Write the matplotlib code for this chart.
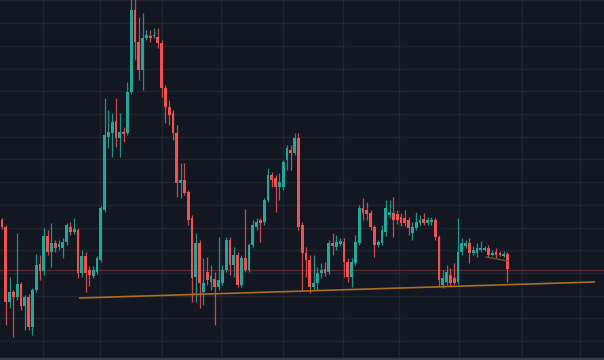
import numpy as np
import matplotlib
matplotlib.use("Agg")
import matplotlib.pyplot as plt

# OHLC, one candle per entry
opens = [140, 133, 58, 68, 63, 76, 54, 63, 33, 70, 96, 89, 124, 108, 117, 113, 112, 118, 133, 128,
         130, 87, 104, 90, 84, 88, 100, 150, 223, 227, 239, 222, 228, 227, 268, 350, 318, 290, 322, 324,
         324, 323, 317, 272, 253, 247, 227, 177, 180, 168, 142, 83, 117, 68, 88, 78, 81, 73, 77, 90,
         120, 95, 105, 75, 102, 90, 115, 133, 140, 138, 160, 185, 182, 173, 173, 200, 210, 207, 222, 135,
         107, 100, 73, 77, 87, 91, 88, 117, 113, 116, 118, 98, 83, 97, 117, 152, 150, 147, 133, 115,
         117, 128, 145, 147, 146, 143, 142, 140, 127, 132, 137, 141, 137, 138, 140, 123, 75, 78, 85, 82,
         78, 108, 114, 117, 107, 107, 110, 110, 112, 105, 108, 107, 104, 106]
highs = [142, 135, 83, 70, 127, 78, 65, 66, 72, 106, 105, 132, 130, 137, 120, 120, 122, 137, 138, 142,
         132, 110, 108, 94, 94, 104, 154, 262, 250, 247, 262, 247, 233, 278, 362, 362, 343, 347, 330, 330,
         332, 332, 320, 275, 260, 250, 235, 197, 197, 170, 145, 127, 120, 102, 103, 95, 88, 123, 95, 123,
         123, 113, 108, 105, 151, 117, 140, 142, 142, 162, 192, 188, 185, 187, 200, 215, 215, 227, 227, 138,
         113, 105, 105, 93, 97, 98, 120, 127, 125, 122, 122, 102, 102, 125, 155, 162, 158, 150, 135, 120,
         135, 160, 160, 163, 150, 147, 150, 143, 138, 148, 145, 147, 143, 143, 142, 125, 90, 95, 92, 97,
         142, 122, 120, 122, 114, 117, 119, 114, 115, 110, 112, 109, 109, 108]
lows = [131, 35, 52, 23, 60, 50, 30, 30, 25, 68, 80, 85, 105, 93, 108, 110, 102, 115, 125, 126,
        82, 83, 68, 74, 82, 86, 98, 148, 212, 203, 213, 203, 218, 225, 266, 300, 280, 270, 320, 318,
        322, 312, 263, 237, 235, 220, 163, 162, 165, 135, 58, 58, 52, 55, 75, 70, 35, 70, 75, 88,
        85, 83, 73, 73, 88, 88, 113, 130, 118, 135, 158, 173, 148, 160, 170, 190, 190, 205, 130, 70,
        83, 67, 70, 70, 82, 84, 86, 105, 110, 114, 83, 78, 73, 95, 115, 140, 140, 130, 103, 113,
        115, 124, 142, 123, 136, 134, 134, 125, 120, 130, 134, 135, 135, 135, 120, 73, 72, 75, 74, 76,
        76, 105, 112, 97, 105, 103, 108, 109, 103, 104, 102, 104, 103, 78]
closes = [133, 58, 68, 63, 76, 54, 63, 33, 70, 95, 89, 124, 108, 117, 112, 116, 118, 135, 128, 131,
          87, 104, 87, 85, 90, 102, 152, 225, 228, 238, 222, 228, 226, 268, 350, 318, 290, 322, 325, 322,
          325, 317, 272, 253, 245, 227, 177, 180, 167, 140, 82, 117, 77, 77, 80, 84, 73, 80, 90, 120,
          95, 105, 75, 102, 90, 115, 135, 138, 137, 160, 185, 180, 173, 178, 198, 212, 207, 222, 133, 107,
          100, 73, 77, 87, 90, 87, 117, 114, 118, 119, 98, 83, 98, 118, 152, 147, 146, 133, 115, 118,
          130, 152, 148, 140, 140, 137, 137, 132, 133, 138, 140, 137, 140, 140, 123, 80, 82, 88, 77, 77,
          108, 117, 117, 107, 110, 112, 112, 112, 105, 107, 105, 105, 106, 91]

support = 90.5                      # horizontal level
trend_x, trend_y = [20.5, 155.8], [62, 78]
short_x, short_y = [127.4, 132.9], [103, 99]
time_ticks = [10.8, 25.8, 42.1, 57.6, 73.9, 89.7, 104.5, 120.3, 136.8, 152.1]

BG = "#131722"
UP, DOWN = "#26a69a", "#ef5350"

fig = plt.figure(figsize=(6.04, 3.60), dpi=100, facecolor=BG)
ax = fig.add_axes([0, 0, 1, 1], facecolor=BG)

o, h, l, c = map(np.array, (opens, highs, lows, closes))
x = np.arange(len(o))
cols = np.where(c >= o, UP, DOWN)

ax.vlines(x, l, h, colors=cols, lw=0.9, alpha=0.85, zorder=3)
bottom = np.minimum(o, c)
height = np.maximum(np.abs(c - o), 1.2)
ax.bar(x, height, bottom=bottom, width=0.72, color=cols, lw=0, zorder=4)

ax.axhline(support, color="#55282e", lw=1.0, zorder=2)
ax.plot(trend_x, trend_y, color="#a86e24", lw=1.2, zorder=5)
ax.plot(short_x, short_y, color="#6e5228", lw=1.0, zorder=5)

ax.set_xlim(-0.53, 158.4)
ax.set_ylim(0, 360)
ax.set_yticks(np.arange(19, 361, 22.7))
ax.set_xticks(time_ticks)
ax.grid(True, color="#20242f", lw=1.0, zorder=0)
ax.tick_params(length=0, labelleft=False, labelbottom=False)
for s in ax.spines.values():
    s.set_visible(False)
ax.axhline(1.5, color="#363a45", lw=2.5, zorder=6)

fig.savefig("out.png", dpi=100, facecolor=BG)
